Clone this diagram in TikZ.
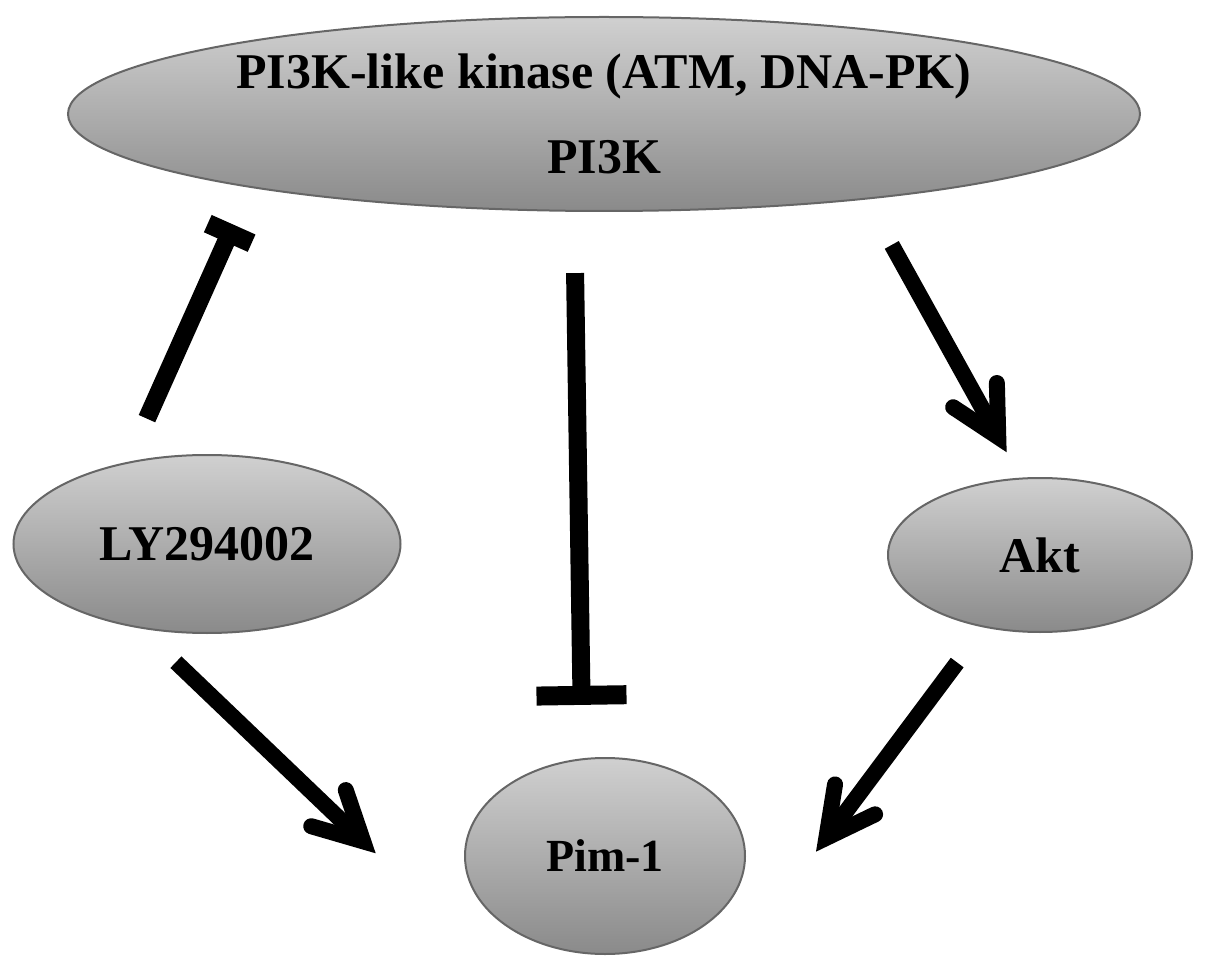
\documentclass[tikz,border=0pt]{standalone}
\usepackage{fontspec}
\setmainfont{Liberation Serif}
\usetikzlibrary{arrows.meta,shapes.geometric,calc}
\definecolor{blobtop}{HTML}{D0D0D0}
\definecolor{blobbot}{HTML}{8A8A8A}
\definecolor{blobrim}{HTML}{666666}

\begin{document}
\begin{tikzpicture}[x=1pt,y=-1pt,
  blob/.style={ellipse, draw=blobrim, line width=2pt, top color=blobtop, bottom color=blobbot,
    inner sep=0pt, align=center, font=\fontsize{50}{85}\selectfont\bfseries},
  act/.style={line width=16pt, -{Straight Barb[length=48pt,width=50pt,line cap=round,line join=miter]}},
  inh/.style={line width=18pt, -{Bar[width=#1, line width'=19pt]}}]
  \useasboundingbox (0,0) rectangle (1205,965);
  % kinases and targets
  \node[blob, minimum width=1072pt, minimum height=194pt] (pik) at (604,114) {PI3K-like kinase (ATM, DNA-PK)\\PI3K};
  \node[blob, minimum width=387pt, minimum height=178pt] (ly) at (207,544) {LY294002};
  \node[blob, minimum width=304pt, minimum height=154pt] (akt) at (1040,555) {Akt};
  \node[blob, minimum width=280pt, minimum height=196pt, font=\fontsize{46}{54}\selectfont\bfseries] (pim) at (605,856) {Pim-1};
  % free ends beside Pim-1
  \coordinate (pimW) at ([xshift=-88.3pt,yshift=2.7pt]pim.west);
  \coordinate (pimE) at ([xshift=70pt,yshift=4.3pt]pim.east);
  % inhibition
  \draw[inh=48pt, shorten <=47.3pt, shorten >=43.5pt] (ly.134.5) -- ($(pik)+(-352.7,71)$);
  \draw[inh=90pt, shorten <=64.2pt, shorten >=53.4pt] ($(pik)+(-29.9,94.9)$) -- (pim.103.6);
  % activation
  \draw[act, shorten <=55pt, shorten >=29pt] ($(pik)+(261.1,82.8)$) -- (akt.104.2);
  \draw[act, shorten <=48.5pt] (ly.232.8) -- (pimW);
  \draw[act, shorten <=43.8pt] (akt.232.4) -- (pimE);
\end{tikzpicture}
\end{document}
